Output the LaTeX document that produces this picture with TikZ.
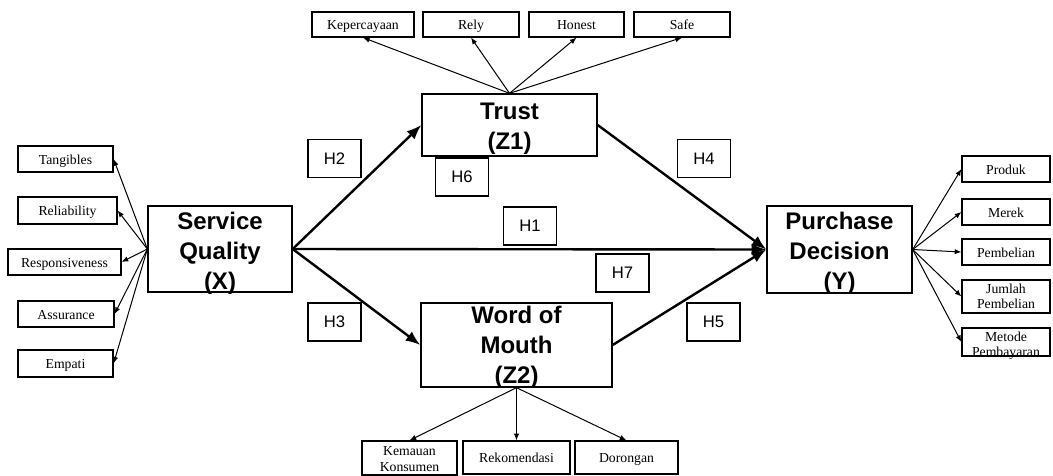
\documentclass[tikz,border=0pt]{standalone}
\usepackage{fontspec}
\setmainfont{Liberation Serif}
\newfontfamily\arialf{Liberation Sans}
\usetikzlibrary{arrows.meta}
\begin{document}
\begin{tikzpicture}[x=0.75pt,y=-0.75pt,
  ind/.style={draw, line width=0.9pt, inner sep=0pt,
    font=\fontsize{10.3}{12.5}\selectfont, minimum height=19.5pt,
    text height=9.5pt, text depth=2pt},
  indm/.style={draw, line width=0.9pt, inner sep=0pt, minimum width=66pt},
  indtxt/.style={inner sep=0pt, align=center, font=\fontsize{10.3}{11}\selectfont},
  lat/.style={draw, line width=1pt, inner sep=0pt},
  lattxt/.style={inner sep=0pt, align=center, yshift=-3pt,
    font=\arialf\bfseries\fontsize{18}{22.5}\selectfont},
  hyp/.style={draw, line width=0.8pt, inner sep=0pt,
    minimum width=39.75pt, minimum height=28.5pt,
    font=\arialf\fontsize{12.5}{15}\selectfont},
  thin/.style={line width=0.75pt, -{Latex[length=5pt,width=4pt]}},
  thick/.style={line width=1.8pt, -{Latex[length=11pt,width=8.5pt]}}]
\useasboundingbox (0,0) rectangle (1053,475);

% latent variables
\node[lat, minimum width=108pt, minimum height=64.5pt,
  label={[lattxt]center:{Service\\Quality\\(X)}}] (sq) at (220,249) {};
\node[lat, minimum width=131.25pt, minimum height=46.5pt,
  label={[lattxt]center:{Trust\\(Z1)}}] (tr) at (509.5,125) {};
\node[lat, minimum width=143.25pt, minimum height=63pt,
  label={[lattxt, yshift=1pt]center:{Word of\\Mouth\\(Z2)}}] (wm) at (516.5,345) {};
\node[lat, minimum width=108.75pt, minimum height=65.25pt,
  label={[lattxt]center:{Purchase\\Decision\\(Y)}}] (pd) at (839.5,249.5) {};

% left indicators
\node[ind, minimum width=71.25pt] (x1) at (65.5,159) {Tangibles};
\node[ind, minimum width=74.25pt, minimum height=20.25pt] (x2) at (67.5,210.5) {Reliability};
\node[ind, minimum width=84.75pt] (x3) at (64.5,262) {Responsiveness};
\node[ind, minimum width=72pt] (x4) at (66,314) {Assurance};
\node[ind, minimum width=71.25pt, minimum height=20.25pt] (x5) at (65.5,363.5) {Empati};

% top indicators
\node[ind, minimum width=76.5pt, minimum height=18.75pt] (z11) at (363,24.5) {Kepercayaan};
\node[ind, minimum width=72pt, minimum height=18.75pt] (z12) at (471,24.5) {Rely};
\node[ind, minimum width=71.25pt, minimum height=18.75pt] (z13) at (576.5,24.5) {Honest};
\node[ind, minimum width=72pt, minimum height=18.75pt] (z14) at (682,24.5) {Safe};

% bottom indicators
\node[indm, minimum width=71.25pt, minimum height=25.5pt,
  label={[indtxt, font=\fontsize{10.3}{12}\selectfont, yshift=-1pt]center:{Kemauan\\Konsumen}}] (z21) at (409.5,458) {};
\node[ind, minimum width=80.25pt, minimum height=24.75pt] (z22) at (516.5,457.5) {Rekomendasi};
\node[ind, minimum width=77.25pt, minimum height=24.75pt] (z23) at (626.5,457.5) {Dorongan};

% right indicators
\node[ind, minimum width=66pt] (y1) at (1006,169) {Produk};
\node[ind, minimum width=66pt] (y2) at (1006,212) {Merek};
\node[ind, minimum width=66pt] (y3) at (1006,252) {Pembelian};
\node[indm, minimum height=24.75pt,
  label={[indtxt]center:{Jumlah\\Pembelian}}] (y4) at (1006,296.5) {};
\node[indm, minimum height=21pt,
  label={[indtxt, yshift=-3pt]center:{Metode\\Pembayaran}}] (y5) at (1006,342) {};

% hypothesis labels
\node[hyp] (h2) at (334.5,158.5) {H2};
\node[hyp] (h6) at (462,177) {H6};
\node[hyp] (h4) at (704,158.5) {H4};
\node[hyp] (h1) at (530,226) {H1};
\node[hyp] (h7) at (622.5,273) {H7};
\node[hyp] (h3) at (334.5,322) {H3};
\node[hyp] (h5) at (713.5,322) {H5};

% indicator arrows
\foreach \t in {x1,x2,x3,x4,x5} \draw[thin] (sq.west) -- (\t.east);
\foreach \t in {z11,z12,z13,z14} \draw[thin] (tr.north) -- (\t.south);
\foreach \t in {z21,z22,z23} \draw[thin] (wm.south) -- (\t.north);
\foreach \t in {y1,y2,y3,y4,y5} \draw[thin] (pd.east) -- (\t.west);

% structural paths
\draw[thick] (sq.east) -- (tr.west);
\draw[thick] (sq.east) -- (wm.west);
\draw[thick] (sq.east) -- (pd.west);
\draw[thick] (tr.east) -- (pd.west);
\draw[thick] (wm.east) -- (pd.west);
\end{tikzpicture}
\end{document}
